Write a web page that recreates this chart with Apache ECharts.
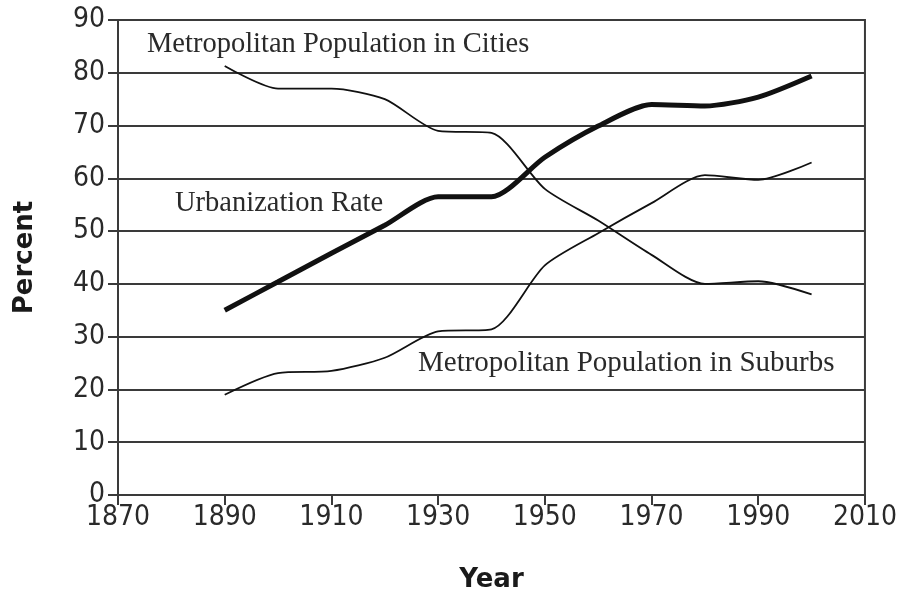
<!DOCTYPE html>
<html>
<head>
<meta charset="utf-8">
<script src="https://cdn.jsdelivr.net/npm/echarts@6/dist/echarts.min.js"></script>
<style>
  html, body { margin: 0; padding: 0; background: #fff; }
  #chart { width: 900px; height: 599px; }
</style>
</head>
<body>
<div id="chart"></div>
<script>
// decades covered by the three series
const years = [1890, 1900, 1910, 1920, 1930, 1940, 1950, 1960, 1970, 1980, 1990, 2000]
const urbanization = [35, 40.4, 45.8, 51.1, 56.5, 56.5, 64, 69.9, 74, 73.7, 75.4, 79.4]
const cities = [81.3, 77, 77, 75, 69, 68.6, 58, 52, 45.5, 40, 40.5, 38]
const suburbs = [19, 23.1, 23.5, 26, 31, 31.4, 43.5, 49.6, 55.3, 60.6, 59.7, 63]

const gridColor = '#3a3a3a'
const serif = '"Liberation Serif", "DejaVu Serif", serif'
const tickFont = '"Liberation Sans Narrow", "DejaVu Sans Condensed", sans-serif'

function pairs(vals) {
  return years.map((y, i) => [y, vals[i]])
}

function lineSeries(name, vals, width) {
  return {
    name: name,
    type: 'line',
    data: pairs(vals),
    smooth: 0.25,
    symbol: 'none',
    lineStyle: { color: '#111', width: width },
    z: 5
  }
}

let chart = echarts.init(document.getElementById('chart'), null, { renderer: 'canvas' })
chart.setOption({
  animation: false,
  grid: {
    left: 118, right: 35, top: 20, bottom: 104,
    show: true, borderColor: gridColor, borderWidth: 2
  },
  xAxis: {
    type: 'value',
    min: 1870, max: 2010, interval: 20,
    name: 'Year',
    nameLocation: 'middle',
    nameGap: 72,
    nameTextStyle: { fontFamily: 'DejaVu Sans', fontWeight: 'bold', fontSize: 26, color: '#1a1a1a' },
    axisLine: { lineStyle: { color: gridColor, width: 2 } },
    axisTick: { show: true, length: 10, lineStyle: { color: gridColor, width: 2 } },
    splitLine: { show: false },
    axisLabel: { fontFamily: tickFont, fontSize: 28, color: '#2a2a2a', margin: 9, formatter: v => String(v) }
  },
  yAxis: {
    type: 'value',
    min: 0, max: 90, interval: 10,
    name: 'Percent',
    nameLocation: 'middle',
    nameGap: 80,
    nameTextStyle: { fontFamily: 'DejaVu Sans', fontWeight: 'bold', fontSize: 26, color: '#1a1a1a' },
    axisLine: { show: true, lineStyle: { color: gridColor, width: 2 } },
    axisTick: { show: true, length: 10, lineStyle: { color: gridColor, width: 2 } },
    splitLine: { show: true, lineStyle: { color: gridColor, width: 2 } },
    axisLabel: { fontFamily: tickFont, fontSize: 28, color: '#2a2a2a', margin: 13 }
  },
  graphic: [
    { type: 'text', left: 147, top: 30, style: { text: 'Metropolitan Population in Cities', font: '28.5px ' + serif, fill: '#2a2a2a' } },
    { type: 'text', left: 175, top: 189, style: { text: 'Urbanization Rate', font: '28.5px ' + serif, fill: '#2a2a2a' } },
    { type: 'text', left: 418, top: 349, style: { text: 'Metropolitan Population in Suburbs', font: '29px ' + serif, fill: '#2a2a2a' } }
  ],
  series: [
    lineSeries('Urbanization Rate', urbanization, 5),
    lineSeries('Metropolitan Population in Cities', cities, 1.8),
    lineSeries('Metropolitan Population in Suburbs', suburbs, 1.8)
  ]
})
</script>
</body>
</html>
